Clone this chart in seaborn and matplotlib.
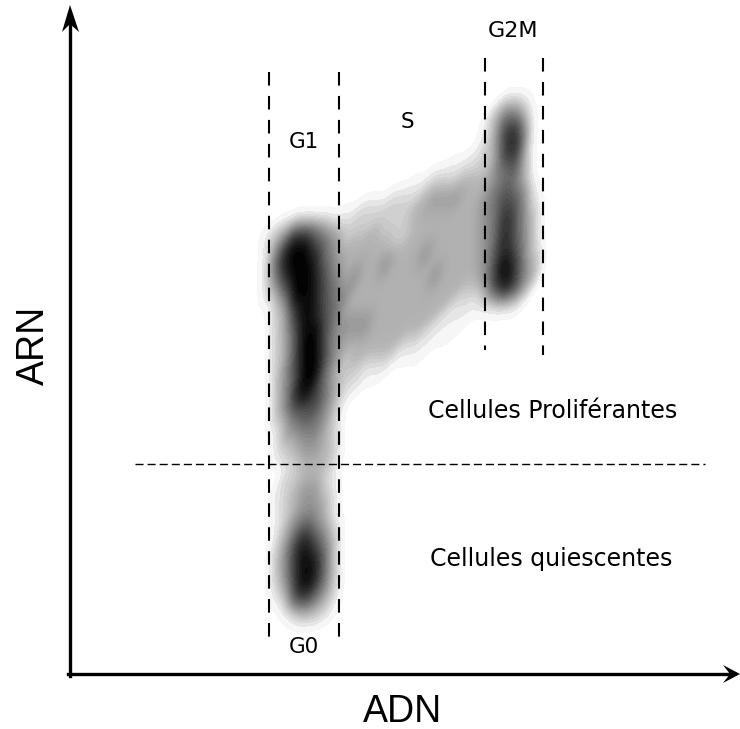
import numpy as np
import matplotlib
matplotlib.use("Agg")
import matplotlib.pyplot as plt
import pandas as pd
import seaborn as sns

# darkness, 0-9, one cell = 10 px
# groups: x 265-335 | 345-405 | 415-475 | 485-545
x_start, y_start, cell = 265, 100, 10
density_rows = [
    "00000000 0000000 0000000 0022100",
    "00000000 0000000 0000000 0244200",
    "00000000 0000000 0000000 1366300",
    "00000000 0000000 0000000 1378400",
    "00000000 0000000 0000000 1378400",
    "00000000 0000000 0000001 2378300",
    "00000000 0000000 0000111 2367300",
    "00000000 0000000 0011122 2456300",
    "00000000 0000000 1122233 3455300",
    "00000000 0000011 1233333 3565410",
    "00000000 0011122 2344433 4576410",
    "00000000 1122222 3333333 4576420",
    "00122221 1222222 3333333 4586420",
    "12366543 2223222 3333333 4586420",
    "13588654 2333322 3333333 4586420",
    "14799754 3333333 3433333 4686420",
    "15899854 3333433 3433333 4697430",
    "15899864 3433433 3343333 4797430",
    "14799865 3433333 3343333 4797420",
    "13699865 4333333 3333322 3686300",
    "12499865 4333333 3333221 2343100",
    "02379865 3333333 3332111 1111000",
    "02379865 4443333 3321110 0000000",
    "02369964 4443333 3211100 0000000",
    "02369964 3333332 2111000 0000000",
    "02369964 3333321 1100000 0000000",
    "02369964 2322211 1000000 0000000",
    "02469953 2211100 0000000 0000000",
    "02469853 2211000 0000000 0000000",
    "02479753 1100000 0000000 0000000",
    "02478753 1000000 0000000 0000000",
    "02466642 0000000 0000000 0000000",
    "02356542 0000000 0000000 0000000",
    "01345532 0000000 0000000 0000000",
    "01334432 0000000 0000000 0000000",
    "01234432 0000000 0000000 0000000",
    "01223332 0000000 0000000 0000000",
    "00123321 0000000 0000000 0000000",
    "00223321 0000000 0000000 0000000",
    "01234421 0000000 0000000 0000000",
    "01234431 0000000 0000000 0000000",
    "01234431 0000000 0000000 0000000",
    "01245431 0000000 0000000 0000000",
    "01357542 0000000 0000000 0000000",
    "01368642 0000000 0000000 0000000",
    "02479752 0000000 0000000 0000000",
    "02479852 0000000 0000000 0000000",
    "02479852 0000000 0000000 0000000",
    "02479852 0000000 0000000 0000000",
    "01378642 0000000 0000000 0000000",
    "01267531 0000000 0000000 0000000",
    "00134321 0000000 0000000 0000000",
    "00012210 0000000 0000000 0000000",
]

records = []
for i, row in enumerate(density_rows):
    for j, c in enumerate(row.replace(" ", "")):
        if c != "0":
            records.append((x_start + j * cell, y_start + i * cell, int(c)))
df = pd.DataFrame(records, columns=["x", "y", "w"])

fig = plt.figure(figsize=(7.4, 7.29), dpi=100)
ax = fig.add_axes([0, 0, 1, 1])
sns.kdeplot(data=df, x="x", y="y", weights="w", fill=True, cmap="gray_r",
            levels=40, thresh=0.01, bw_adjust=0.22, gridsize=220, ax=ax)
ax.set_xlim(0, 740)
ax.set_ylim(729, 0)
ax.axis("off")

# cell cycle gates
for x, y0, y1 in [(269, 72, 645), (339, 72, 645), (485, 58, 350), (543, 58, 355)]:
    ax.plot([x, x], [y0, y1], color="black", lw=1.5, dashes=(6.5, 5))
ax.plot([135, 705], [464, 464], color="black", lw=1.0, dashes=(5.8, 2.9))

# axes arrows
ax.plot([70, 70], [676, 25], color="black", lw=2.4)
ax.plot([68, 732], [674, 674], color="black", lw=2.4)
ax.fill([70, 79, 70, 62], [5, 32, 24, 32], color="black", lw=0)
ax.fill([740, 723, 730, 723], [674, 665, 674, 683], color="black", lw=0)

ax.text(513, 31, "G2M", fontsize=16, ha="center", va="center")
ax.text(304, 142, "G1", fontsize=15.5, ha="center", va="center")
ax.text(407, 122, "S", fontsize=15.5, ha="center", va="center")
ax.text(304, 647, "G0", fontsize=15.5, ha="center", va="center")
ax.text(428, 411, "Cellules Proliférantes", fontsize=17, ha="left", va="center")
ax.text(430, 559, "Cellules quiescentes", fontsize=17, ha="left", va="center")
ax.text(402, 712, "ADN", fontsize=27, family="Liberation Sans", ha="center", va="center")
ax.text(34, 345, "ARN", fontsize=27, family="Liberation Sans", ha="center", va="center", rotation=90)

fig.savefig("out.png", dpi=100)
